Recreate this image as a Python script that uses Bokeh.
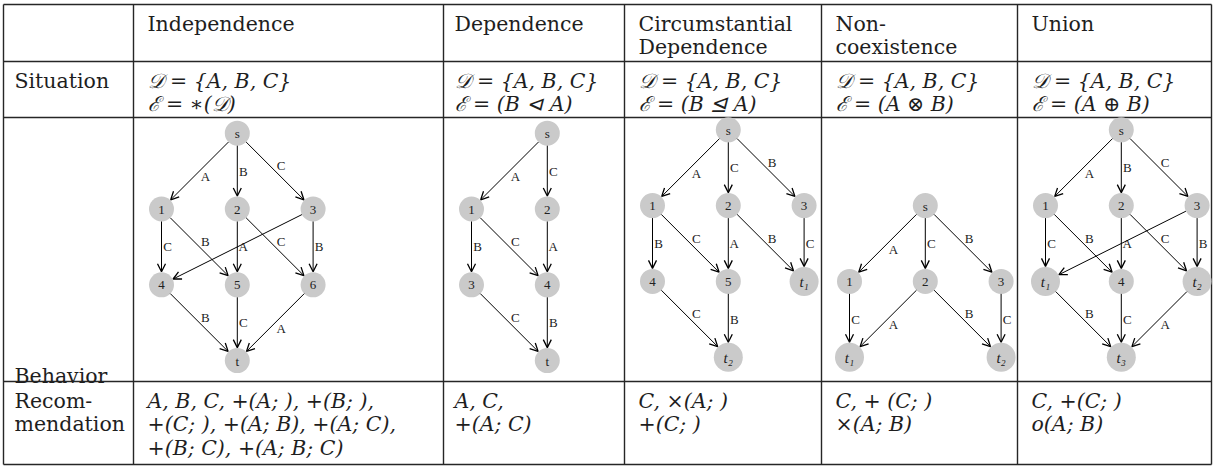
from bokeh.plotting import figure
from bokeh.models import Range1d, Arrow, OpenHead, ColumnDataSource
from bokeh.core.properties import value
from bokeh.embed import file_html
from bokeh.resources import INLINE

# ---------------- data ----------------
HEADERS = [["Independence"], ["Dependence"], ["Circumstantial", "Dependence"],
           ["Non-", "coexistence"], ["Union"]]
ROW_TITLES = [["Situation"], ["Behavior"], ["Recom-", "mendation"]]
DOMAIN = "𝒟 = {A, B, C}"
EXPRESSIONS = ["ℰ = ∗(𝒟)", "ℰ = (B ⊲ A)", "ℰ = (B ⊴ A)", "ℰ = (A ⊗ B)", "ℰ = (A ⊕ B)"]
RECOMMENDATIONS = [
    ["A, B, C, +(A; ), +(B; ),", "+(C; ), +(A; B), +(A; C),", "+(B; C), +(A; B; C)"],
    ["A,  C,", "+(A; C)"],
    ["C, ×(A; )", "+(C; )"],
    ["C,   + (C; )", "×(A; B)"],
    ["C, +(C; )", "o(A; B)"],
]

# graph nodes: (name, grid column, grid row)
NODES = [
    [("s", 1, 0), ("1", 0, 1), ("2", 1, 1), ("3", 2, 1), ("4", 0, 2), ("5", 1, 2), ("6", 2, 2), ("t", 1, 3)],
    [("s", 1, 0), ("1", 0, 1), ("2", 1, 1), ("3", 0, 2), ("4", 1, 2), ("t", 1, 3)],
    [("s", 1, 0), ("1", 0, 1), ("2", 1, 1), ("3", 2, 1), ("4", 0, 2), ("5", 1, 2), ("t₁", 2, 2), ("t₂", 1, 3)],
    [("s", 1, 1), ("1", 0, 2), ("2", 1, 2), ("3", 2, 2), ("t₁", 0, 3), ("t₂", 2, 3)],
    [("s", 1, 0), ("1", 0, 1), ("2", 1, 1), ("3", 2, 1), ("t₁", 0, 2), ("4", 1, 2), ("t₂", 2, 2), ("t₃", 1, 3)],
]
# graph edges: (from, to, label)
EDGES = [
    [("s", "1", "A"), ("s", "2", "B"), ("s", "3", "C"), ("1", "4", "C"), ("1", "5", "B"), ("2", "5", "A"),
     ("2", "6", "C"), ("3", "4", ""), ("3", "6", "B"), ("4", "t", "B"), ("5", "t", "C"), ("6", "t", "A")],
    [("s", "1", "A"), ("s", "2", "C"), ("1", "3", "B"), ("1", "4", "C"), ("2", "4", "A"), ("3", "t", "C"),
     ("4", "t", "B")],
    [("s", "1", "A"), ("s", "2", "C"), ("s", "3", "B"), ("1", "4", "B"), ("1", "5", "C"), ("2", "5", "A"),
     ("2", "t₁", "B"), ("3", "t₁", "C"), ("4", "t₂", "C"), ("5", "t₂", "B")],
    [("s", "1", "A"), ("s", "2", "C"), ("s", "3", "B"), ("1", "t₁", "C"), ("2", "t₁", "A"), ("2", "t₂", "B"),
     ("3", "t₂", "C")],
    [("s", "1", "A"), ("s", "2", "B"), ("s", "3", "C"), ("1", "t₁", "C"), ("1", "4", "B"), ("2", "4", "A"),
     ("2", "t₂", "C"), ("3", "t₁", ""), ("3", "t₂", "B"), ("t₁", "t₃", "B"), ("4", "t₃", "C"), ("t₂", "t₃", "A")],
]

# ---------------- layout (reference pixel space, y down) ----------------
VLINES = [3, 133, 443, 624, 821, 1017, 1211]
HLINES = [4, 61, 117, 381, 464]
FIRST_BASE = 19
LINE_SKIP = 23.5
COL_PAD = [11, 14, 11, 14, 14, 14]
GRID = 75.8
GRAPH_X_OFF = 28
GRAPH_Y0 = [132.7, 132.7, 129.3, 129.3, 129.3]
R_SMALL, R_BIG = 12.5, 14.5

SERIF = value("DejaVu Serif")
SMALL_SERIF = value("Liberation Serif")
FS = "20.5px"
INK = "#1e1e1e"

p = figure(width=1214, height=466, x_range=Range1d(0, 1214), y_range=Range1d(466, 0),
           toolbar_location=None, output_backend="svg", min_border=0,
           x_axis_type=None, y_axis_type=None)
p.grid.visible = False
p.outline_line_color = None
p.background_fill_color = "white"

# table rules
sx0, sy0, sx1, sy1 = [], [], [], []
for y in HLINES:
    sx0.append(VLINES[0]); sx1.append(VLINES[-1]); sy0.append(y); sy1.append(y)
for x in VLINES:
    sx0.append(x); sx1.append(x); sy0.append(HLINES[0]); sy1.append(HLINES[-1])
p.segment(sx0, sy0, sx1, sy1, line_color="#262626", line_width=1.4)

# roman texts
rx, ry, rt = [], [], []
for i, lines in enumerate(HEADERS):
    for j, t in enumerate(lines):
        rx.append(VLINES[i + 1] + COL_PAD[i + 1]); ry.append(HLINES[0] + FIRST_BASE + j * LINE_SKIP); rt.append(t)
rx.append(VLINES[0] + COL_PAD[0]); ry.append(HLINES[1] + FIRST_BASE); rt.append(ROW_TITLES[0][0])
rx.append(VLINES[0] + COL_PAD[0]); ry.append(HLINES[3] - 6); rt.append(ROW_TITLES[1][0])
for j, t in enumerate(ROW_TITLES[2]):
    rx.append(VLINES[0] + COL_PAD[0]); ry.append(HLINES[3] + FIRST_BASE + j * LINE_SKIP); rt.append(t)
p.text(rx, ry, text=rt, text_font=SERIF, text_font_size=FS, text_baseline="alphabetic",
       text_align="left", text_color=INK)

# math texts (italic)
mx, my, mt = [], [], []
for i in range(5):
    x = VLINES[i + 1] + COL_PAD[i + 1]
    mx += [x, x]; my += [HLINES[1] + FIRST_BASE, HLINES[1] + FIRST_BASE + LINE_SKIP]
    mt += [DOMAIN, EXPRESSIONS[i]]
    for j, t in enumerate(RECOMMENDATIONS[i]):
        mx.append(x); my.append(HLINES[3] + FIRST_BASE + j * LINE_SKIP); mt.append(t)
p.text(mx, my, text=mt, text_font=SERIF, text_font_size=FS, text_font_style="italic",
       text_baseline="alphabetic", text_align="left", text_color=INK)

# graphs
cx, cy, cr, nl_x, nl_y, nl_t, nl_big = [], [], [], [], [], [], []
ax0, ay0, ax1, ay1 = [], [], [], []
lx, ly, lt = [], [], []
for g in range(5):
    pos = {}
    for name, c, r in NODES[g]:
        x = VLINES[g + 1] + GRAPH_X_OFF + c * GRID
        y = GRAPH_Y0[g] + r * GRID
        rad = R_BIG if len(name) > 1 else R_SMALL
        pos[name] = (x, y, rad)
        cx.append(x); cy.append(y); cr.append(rad)
        nl_x.append(x); nl_y.append(y + 0.5); nl_t.append(name); nl_big.append(len(name) > 1)
    for a, b, lab in EDGES[g]:
        xa, ya, ra = pos[a]
        xb, yb, rb = pos[b]
        dx, dy = xb - xa, yb - ya
        d = (dx * dx + dy * dy) ** 0.5
        ux, uy = dx / d, dy / d
        ax0.append(xa + ux * ra); ay0.append(ya + uy * ra)
        ax1.append(xb - ux * (rb + 0.5)); ay1.append(yb - uy * (rb + 0.5))
        if lab:
            mxp, myp = (xa + xb) / 2, (ya + yb) / 2
            sgn = 0 if abs(dx) < 1e-6 else (1 if dx > 0 else -1)
            lx.append(mxp + 6); ly.append(myp - 5.5 * sgn); lt.append(lab)

p.circle(cx, cy, radius=cr, fill_color="#cacaca", line_color=None)
src = ColumnDataSource(dict(x0=ax0, y0=ay0, x1=ax1, y1=ay1))
p.add_layout(Arrow(x_start="x0", y_start="y0", x_end="x1", y_end="y1", source=src,
                   line_color="black", line_width=1.0,
                   end=OpenHead(size=8, line_width=1.3, line_color="black")))

small_x = [x for x, b in zip(nl_x, nl_big) if not b]
small_y = [y for y, b in zip(nl_y, nl_big) if not b]
small_t = [t for t, b in zip(nl_t, nl_big) if not b]
big_x = [x for x, b in zip(nl_x, nl_big) if b]
big_y = [y for y, b in zip(nl_y, nl_big) if b]
big_t = [t for t, b in zip(nl_t, nl_big) if b]
p.text(small_x, small_y, text=small_t, text_font=SMALL_SERIF, text_font_size="13px",
       text_align="center", text_baseline="middle", text_color="#222222")
p.text(big_x, big_y, text=big_t, text_font=SMALL_SERIF, text_font_size="15px", text_font_style="italic",
       text_align="center", text_baseline="middle", text_color="#222222")
p.text(lx, ly, text=lt, text_font=SMALL_SERIF, text_font_size="13px",
       text_align="center", text_baseline="middle", text_color="#222222")

open("out.html", "w").write(file_html(p, INLINE))
